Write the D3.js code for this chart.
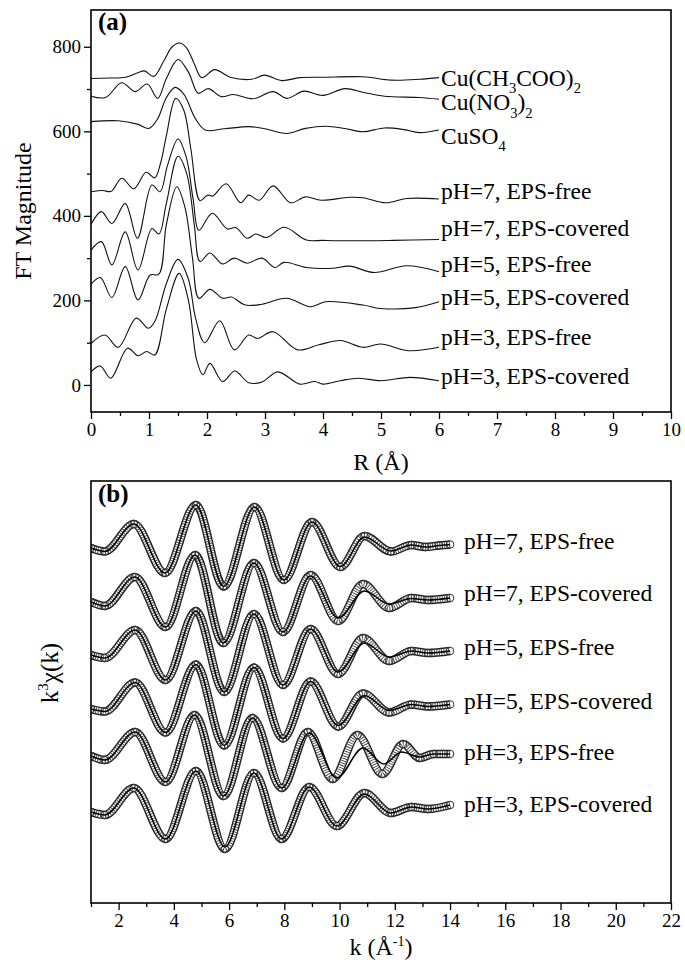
<!DOCTYPE html>
<html><head><meta charset="utf-8">
<script src="https://cdn.jsdelivr.net/npm/d3@7"></script>
<style>
body{margin:0;background:#fff}
svg{display:block}
text{font-family:"Liberation Serif","Times New Roman",serif;fill:#000}
</style>
</head><body><svg id="c" width="685" height="960"></svg>
<script>
// ---------- Panel (a): FT magnitude vs R ----------
const ftCuAc   = [[0,725],[0.3,726],[0.6,728],[0.8,738],[0.92,743],[1.08,730],[1.25,765],[1.4,800],[1.53,809],[1.65,797],[1.78,760],[1.91,727],[2.13,746],[2.4,728],[2.77,723],[2.99,733],[3.29,720],[3.6,727],[4.0,728],[4.69,729],[5.18,721],[5.66,723],[6.0,727]];
const ftCuNO3  = [[0,683],[0.25,680],[0.53,715],[0.76,694],[0.97,712],[1.15,678],[1.3,725],[1.5,770],[1.68,740],[1.85,690],[2.02,701],[2.25,682],[2.45,687],[2.8,677],[3.14,694],[3.38,678],[3.67,695],[4.0,685],[4.38,701],[4.7,692],[5.06,683],[5.66,680],[6.0,676]];
const ftCuSO4  = [[0,623],[0.47,625],[0.8,617],[1.0,607],[1.15,630],[1.3,680],[1.45,704],[1.6,688],[1.8,630],[1.97,603],[2.3,606],[2.73,611],[3.0,606],[3.37,595],[3.7,607],[4.05,612],[4.4,606],[4.69,599],[5.06,608],[5.4,604],[5.66,597],[6.0,603]];
const ftPH7free= [[0,457],[0.2,460],[0.35,458],[0.53,489],[0.74,464],[0.95,503],[1.1,490],[1.2,525],[1.3,590],[1.46,678],[1.6,650],[1.72,560],[1.88,436],[2.01,449],[2.1,447],[2.33,476],[2.58,431],[2.72,449],[2.9,437],[3.14,471],[3.44,431],[3.7,445],[3.97,437],[4.46,444],[4.69,443],[5.08,431],[5.44,441],[6.0,440]];
const ftPH7cov = [[0,380],[0.18,410],[0.36,382],[0.59,429],[0.8,347],[1.05,473],[1.19,457],[1.32,520],[1.5,582],[1.64,540],[1.76,440],[1.86,366],[2.09,406],[2.35,369],[2.5,372],[2.69,347],[2.84,357],[3.03,349],[3.33,373],[3.71,343],[4.0,342],[4.46,341],[5.21,342],[6.0,344]];
const ftPH5free= [[0,319],[0.18,339],[0.36,284],[0.59,362],[0.81,272],[1.05,370],[1.17,357],[1.3,430],[1.5,541],[1.65,500],[1.78,380],[1.88,292],[2.05,312],[2.27,286],[2.47,300],[2.69,288],[2.95,300],[3.17,278],[3.33,290],[3.71,278],[4.16,276],[4.46,281],[4.88,266],[5.44,282],[6.0,268]];
const ftPH5cov = [[0,238],[0.16,254],[0.36,207],[0.59,280],[0.81,201],[1.02,260],[1.17,262],[1.3,380],[1.48,469],[1.62,420],[1.75,300],[1.86,205],[2.05,226],[2.27,205],[2.42,208],[2.66,189],[2.95,191],[3.37,205],[3.79,185],[4.05,197],[4.69,189],[4.99,181],[5.6,183],[6.0,197]];
const ftPH3free= [[0,98],[0.24,118],[0.47,89],[0.78,158],[0.99,134],[1.1,150],[1.3,240],[1.5,297],[1.68,250],[1.8,160],[1.96,100],[2.22,152],[2.47,83],[2.72,118],[2.87,110],[3.14,126],[3.56,83],[3.93,95],[4.3,105],[4.69,89],[4.99,97],[5.48,81],[6.0,89]];
const ftPH3cov = [[0,31],[0.16,45],[0.34,16],[0.63,87],[0.81,69],[0.96,79],[1.1,71],[1.3,180],[1.52,264],[1.68,200],[1.82,60],[1.93,24],[2.05,51],[2.27,8],[2.48,33],[2.72,5],[2.95,7],[3.22,31],[3.6,2],[3.86,8],[4.0,2],[4.3,10],[4.6,16],[5.0,10],[5.5,18],[6.0,10]];
// label anchor values (FT magnitude units) at R = 6
const labelValA = [724,667,587,457,369,284,206,113,21];
const xTicksA = [0,1,2,3,4,5,6,7,8,9,10];
const yTicksA = [0,200,400,600,800];

// ---------- Panel (b): k^3 chi(k) ----------
const chiData7free = [[1.0,-0.2],[1.5,-0.55],[2.55,2.2],[3.68,-2.7],[4.8,4.1],[5.8,-4.05],[6.92,3.9],[7.98,-3.4],[9.0,2.4],[10.03,-2.1],[10.9,1.0],[11.86,-0.55],[12.6,0.1],[13.1,-0.1],[13.6,0.05],[14,0.15]];
const chiFit7free  = [[1.0,-0.2],[1.5,-0.55],[2.55,2.2],[3.68,-2.7],[4.8,4.1],[5.8,-4.05],[6.92,3.9],[7.98,-3.4],[9.0,2.4],[10.03,-2.05],[10.9,0.9],[11.86,-0.5],[12.6,0.1],[13.1,-0.1],[13.6,0.05],[14,0.15]];
const chiData7cov  = [[1.0,-0.3],[1.5,-0.7],[2.59,2.2],[3.7,-2.8],[4.77,4.4],[5.79,-4.4],[6.9,3.6],[7.95,-3.3],[8.95,2.4],[9.95,-2.2],[10.85,1.5],[11.8,-0.9],[12.6,0.1],[13.2,-0.1],[14,0.1]];
const chiFit7cov   = [[1.0,-0.3],[1.5,-0.7],[2.59,2.2],[3.7,-2.8],[4.77,4.4],[5.79,-4.4],[6.9,3.6],[7.95,-3.3],[8.95,2.3],[9.95,-1.9],[10.9,0.8],[11.8,-0.5],[12.6,0.05],[13.2,-0.1],[14,0.1]];
const chiData5free = [[1.0,-0.3],[1.5,-0.6],[2.6,2.2],[3.7,-2.8],[4.8,4.1],[5.82,-4.0],[6.9,3.8],[7.95,-3.3],[8.95,2.3],[9.95,-2.2],[10.85,1.4],[11.8,-0.9],[12.6,0.1],[13.2,-0.1],[14,0.1]];
const chiFit5free  = [[1.0,-0.3],[1.5,-0.6],[2.6,2.2],[3.7,-2.8],[4.8,4.1],[5.82,-4.0],[6.9,3.8],[7.95,-3.3],[8.95,2.3],[9.95,-2.0],[10.9,0.9],[11.8,-0.5],[12.6,0.1],[13.2,-0.1],[14,0.1]];
const chiData5cov  = [[1.0,-0.35],[1.5,-0.6],[2.6,2.3],[3.7,-2.7],[4.8,4.1],[5.82,-4.0],[6.9,3.8],[7.95,-3.3],[8.95,2.4],[9.95,-2.1],[10.85,1.2],[11.8,-0.7],[12.6,0.1],[13.2,-0.1],[14,0.1]];
const chiFit5cov   = [[1.0,-0.35],[1.5,-0.6],[2.6,2.3],[3.7,-2.7],[4.8,4.1],[5.82,-4.0],[6.9,3.8],[7.95,-3.3],[8.95,2.4],[9.95,-2.0],[10.9,1.0],[11.8,-0.5],[12.6,0.1],[13.2,-0.1],[14,0.1]];
const chiData3free = [[1.0,-0.1],[1.5,-0.5],[2.6,2.3],[3.7,-2.7],[4.75,4.0],[5.8,-4.1],[6.85,3.7],[7.9,-3.3],[8.85,2.3],[9.75,-2.4],[10.65,2.0],[11.55,-1.9],[12.3,1.1],[12.9,-0.3],[13.4,0.1],[14,0.1]];
const chiFit3free  = [[1.0,-0.1],[1.5,-0.5],[2.6,2.3],[3.7,-2.7],[4.75,4.0],[5.8,-4.1],[6.85,3.7],[7.9,-3.3],[8.9,2.2],[9.9,-2.3],[10.85,0.7],[11.6,-0.9],[12.25,0.3],[12.9,-0.2],[13.4,0.1],[14,0.1]];
const chiData3cov  = [[1.0,-0.2],[1.5,-0.5],[2.55,2.2],[3.7,-2.9],[4.8,3.9],[5.85,-3.9],[6.9,3.7],[7.9,-2.9],[8.9,2.3],[9.9,-1.6],[10.9,1.7],[11.85,-0.3],[12.6,0.3],[13.2,0.1],[14,0.5]];
const chiFit3cov   = [[1.0,-0.2],[1.5,-0.5],[2.55,2.2],[3.7,-2.9],[4.8,3.9],[5.85,-3.7],[6.9,3.7],[7.9,-2.9],[8.9,2.3],[9.9,-1.6],[10.9,1.6],[11.85,-0.3],[12.6,0.3],[13.2,0.1],[14,0.5]];
const chiOffsets = [0,-5.3,-10.6,-15.95,-20.9,-26.4];
const labelValB  = [0.5,0.6,0.5,0.4,0.3,0.6];
const xTicksB = [2,4,6,8,10,12,14,16,18,20,22];

const namesA = ["Cu(CH3COO)2","Cu(NO3)2","CuSO4","pH=7, EPS-free","pH=7, EPS-covered","pH=5, EPS-free","pH=5, EPS-covered","pH=3, EPS-free","pH=3, EPS-covered"];
const namesB = ["pH=7, EPS-free","pH=7, EPS-covered","pH=5, EPS-free","pH=5, EPS-covered","pH=3, EPS-free","pH=3, EPS-covered"];

const seriesA = [ftCuAc,ftCuNO3,ftCuSO4,ftPH7free,ftPH7cov,ftPH5free,ftPH5cov,ftPH3free,ftPH3cov];
const seriesB = [[chiData7free,chiFit7free],[chiData7cov,chiFit7cov],[chiData5free,chiFit5free],[chiData5cov,chiFit5cov],[chiData3free,chiFit3free],[chiData3cov,chiFit3cov]];

// ---------- drawing ----------
const svg = d3.select("#c");
const L = 91, R = 671;
const A = {top:10, bottom:412};
const B = {top:481, bottom:903};
const LBL = 23.5; // series label font size

const xA = d3.scaleLinear().domain([0,10]).range([L,R]);
const yA = d3.scaleLinear().domain([-64,887]).range([A.bottom,A.top]);
const xB = d3.scaleLinear().domain([1,22]).range([L,R]);
const yB = d3.scaleLinear().domain([-35.7,6.5]).range([B.bottom,B.top]);

function styleAxis(g){
  g.selectAll(".domain").remove();
  g.selectAll("line").attr("stroke","#000").attr("stroke-width",1.3);
  g.selectAll("text").style("font-family",'"Liberation Serif","Times New Roman",serif').style("font-size","19px").attr("fill","#000");
}

// Panel a axes
svg.append("g").attr("transform",`translate(0,${A.bottom})`)
  .call(d3.axisBottom(xA).tickValues(d3.range(0.5,10,1)).tickSize(4).tickFormat(""))
  .call(styleAxis);
svg.append("g").attr("transform",`translate(0,${A.bottom})`)
  .call(d3.axisBottom(xA).tickValues(xTicksA).tickSize(7).tickPadding(4).tickFormat(d3.format("d")))
  .call(styleAxis);
svg.append("g").attr("transform",`translate(${L},0)`)
  .call(d3.axisLeft(yA).tickValues([100,300,500,700]).tickSize(4).tickFormat(""))
  .call(styleAxis);
svg.append("g").attr("transform",`translate(${L},0)`)
  .call(d3.axisLeft(yA).tickValues(yTicksA).tickSize(7).tickPadding(3).tickFormat(d3.format("d")))
  .call(styleAxis);

// Panel a curves
const lineA = d3.line().x(d=>xA(d[0])).y(d=>yA(d[1])).curve(d3.curveCatmullRom.alpha(0.5));
svg.append("g").selectAll("path").data(seriesA).join("path")
  .attr("d",lineA).attr("fill","none").attr("stroke","#111").attr("stroke-width",1.1);

// Panel a labels
function subLabel(g, name, fs){
  if(name.startsWith("Cu")){
    const parts = name.match(/[A-Za-z()]+|\d+/g);
    let lastSub = false;
    parts.forEach(p=>{
      if(/^\d+$/.test(p)){ g.append("tspan").text(p).attr("font-size",fs*0.62).attr("dy", fs*0.3); lastSub = true; }
      else { const t = g.append("tspan").text(p); if(lastSub) t.attr("dy",-fs*0.3); lastSub = false; }
    });
  } else g.text(name);
}
namesA.forEach((n,i)=>{
  const t = svg.append("text").attr("x",xA(6)+2).attr("y",yA(labelValA[i])+7.5).style("font-size",LBL+"px");
  subLabel(t,n,LBL);
});

// Panel a frame & tag
svg.append("rect").attr("x",L).attr("y",A.top).attr("width",R-L).attr("height",A.bottom-A.top)
  .attr("fill","none").attr("stroke","#000").attr("stroke-width",1.6);
svg.append("text").attr("x",98).attr("y",30).style("font-size","25px").style("font-weight","bold").text("(a)");
svg.append("text").attr("transform",`translate(31,${(A.top+A.bottom)/2}) rotate(-90)`).attr("text-anchor","middle")
  .style("font-size","24px").text("FT Magnitude");
svg.append("text").attr("x",(L+R)/2).attr("y",470).attr("text-anchor","middle").style("font-size","24px").text("R (Å)");

// Panel b axes
svg.append("g").attr("transform",`translate(0,${B.bottom})`)
  .call(d3.axisBottom(xB).tickValues(d3.range(1,22,2)).tickSize(4).tickFormat(""))
  .call(styleAxis);
svg.append("g").attr("transform",`translate(0,${B.bottom})`)
  .call(d3.axisBottom(xB).tickValues(xTicksB).tickSize(7).tickPadding(4).tickFormat(d3.format("d")))
  .call(styleAxis);

// Panel b curves
svg.append("clipPath").attr("id","clipB").append("rect")
  .attr("x",L).attr("y",B.top).attr("width",R-L).attr("height",B.bottom-B.top);
const gB = svg.append("g").attr("clip-path","url(#clipB)");
const lineB = off => d3.line().x(d=>xB(d[0])).y(d=>yB(d[1]+off)).curve(d3.curveMonotoneX);
seriesB.forEach((s,i)=>{
  const off = chiOffsets[i];
  const [dat,fit] = s;
  const g = gB.append("g");
  g.append("path").attr("d",lineB(off)(dat)).attr("fill","none").attr("stroke","#222").attr("stroke-width",8.5);
  g.append("path").attr("d",lineB(off)(dat)).attr("fill","none").attr("stroke","#fff").attr("stroke-width",5.6);
  g.append("path").attr("d",lineB(off)(dat)).attr("fill","none").attr("stroke","#444").attr("stroke-width",6)
    .attr("stroke-dasharray","0.9,1.5");
  g.selectAll("circle").data(dat).join("circle")
    .attr("cx",d=>xB(d[0])).attr("cy",d=>yB(d[1]+off)).attr("r",3.8)
    .attr("fill","none").attr("stroke","#333").attr("stroke-width",1);
  g.append("path").attr("d",lineB(off)(fit)).attr("fill","none").attr("stroke","#000").attr("stroke-width",1.5);
});
namesB.forEach((n,i)=>{
  svg.append("text").attr("x",464).attr("y",yB(chiOffsets[i]+labelValB[i])+7.5).style("font-size",LBL+"px").text(n);
});

svg.append("rect").attr("x",L).attr("y",B.top).attr("width",R-L).attr("height",B.bottom-B.top)
  .attr("fill","none").attr("stroke","#000").attr("stroke-width",1.6);
svg.append("text").attr("x",98).attr("y",502).style("font-size","25px").style("font-weight","bold").text("(b)");
const yl = svg.append("text").attr("transform",`translate(58,673) rotate(-90)`).attr("text-anchor","middle").style("font-size","25px");
yl.append("tspan").text("k");
yl.append("tspan").text("3").attr("font-size",15).attr("dy",-10);
yl.append("tspan").text("χ(k)").attr("dy",10);
const xl = svg.append("text").attr("x",(L+R)/2).attr("y",955).attr("text-anchor","middle").style("font-size","24px");
xl.append("tspan").text("k (Å");
xl.append("tspan").text("-1").attr("font-size",14).attr("dy",-9);
xl.append("tspan").text(")").attr("dy",9);
</script></body></html>
